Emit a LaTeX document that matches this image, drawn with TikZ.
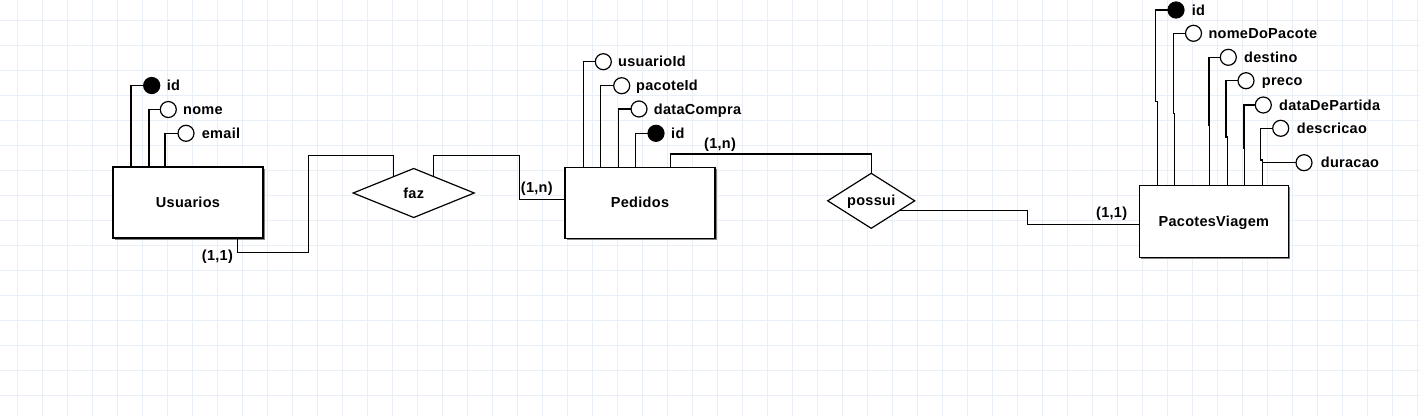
\documentclass[tikz,border=0pt]{standalone}
\usepackage{fontspec}
\setmainfont{Liberation Sans}[LetterSpace=2]
\usetikzlibrary{calc,shapes.geometric,shadows}
\definecolor{gridc}{RGB}{232,239,246}
\begin{document}
\begin{tikzpicture}[x=1pt,y=-1pt,
  conn/.style={line width=1.2pt, line join=miter},
  erfont/.style={font=\fontsize{14.5}{16}\selectfont\bfseries},
  entity/.style={draw, line width=1.2pt, fill=white, rectangle, minimum width=150pt, minimum height=71pt,
    inner sep=0pt, outer sep=0pt, erfont, text height=10pt, text depth=0pt,
    drop shadow={shadow xshift=1.6pt, shadow yshift=-1.6pt, fill=black!50, opacity=1}},
  rel/.style={draw, diamond, aspect=2, line width=1.2pt, fill=white, inner sep=0pt, outer sep=0pt,
    erfont, text height=10pt, text depth=0pt},
  attr/.style={draw, circle, line width=1.2pt, fill=white, minimum size=16pt, inner sep=0pt, outer sep=0pt},
  key/.style={attr, fill=black},
  lbl/.style={anchor=base west, inner sep=0pt, erfont},
]
% background and grid
\fill[white] (0,0) rectangle (1420,416);
\useasboundingbox (0,0) rectangle (1420,416);
\foreach \i in {0,...,56} \draw[gridc, line width=1pt] ({17.3+25*\i},0) -- ({17.3+25*\i},416);
\foreach \j in {0,...,15} \draw[gridc, line width=1pt] (0,{20+25*\j}) -- (1420,{20+25*\j});

% entities
\node[entity] (usu) at (188,202.5) {Usuarios};
\node[entity] (ped) at (640,202.7) {Pedidos};
\node[entity, minimum width=149pt, minimum height=72pt] (pv) at (1213.8,221.2) {PacotesViagem};

% relationships
\node[rel, minimum width=121pt, minimum height=49pt] (faz) at (413.7,193) {faz};
\node[rel, minimum width=87pt, minimum height=55pt] (possui) at (871.2,200.8) {possui};

% Usuarios attributes
\node[key]  (u1) at (151.7,85.5) {};
\node[attr] (u2) at (168.3,109.5) {};
\node[attr] (u3) at (186,133.3) {};
\node[lbl] (u1l) at (166.7,90.5) {id};
\node[lbl] (u2l) at (183,114.5) {nome};
\node[lbl] (u3l) at (201.7,138.3) {email};
\draw[conn] (u1.west) -| (131,0 |- usu.north);
\draw[conn] (u2.west) -| (149,0 |- usu.north);
\draw[conn] (u3.west) -| (165,0 |- usu.north);

% Pedidos attributes
\node[attr] (p1) at (603.3,61.7) {};
\node[attr] (p2) at (621.7,85.7) {};
\node[attr] (p3) at (639,109) {};
\node[key]  (p4) at (656,133.3) {};
\node[lbl] (p1l) at (618,66.7) {usuarioId};
\node[lbl] (p2l) at (636,90.7) {pacoteId};
\node[lbl] (p3l) at (653.7,114) {dataCompra};
\node[lbl] (p4l) at (671,138.3) {id};
\draw[conn] (p1.west) -| (583.3,0 |- ped.north);
\draw[conn] (p2.west) -| (600.7,0 |- ped.north);
\draw[conn] (p3.west) -| (618.7,0 |- ped.north);
\draw[conn] (p4.west) -| (635.7,0 |- ped.north);

% PacotesViagem attributes
\node[key]  (v1) at (1176,10) {};
\node[attr] (v2) at (1193.5,33.3) {};
\node[attr] (v3) at (1228.3,57.3) {};
\node[attr] (v4) at (1246,80.7) {};
\node[attr] (v5) at (1263.3,105) {};
\node[attr] (v6) at (1280.7,128.3) {};
\node[attr] (v7) at (1304,162.7) {};
\node[lbl] (v1l) at (1191.7,15) {id};
\node[lbl] (v2l) at (1208.3,38.3) {nomeDoPacote};
\node[lbl] (v3l) at (1244,62.3) {destino};
\node[lbl] (v4l) at (1261.7,85.7) {preco};
\node[lbl] (v5l) at (1279,110) {dataDePartida};
\node[lbl] (v6l) at (1296.7,133.3) {descricao};
\node[lbl] (v7l) at (1320.7,167.7) {duracao};
\draw[conn] (v1.west) -| (1155.7,101.7) -- (1157.3,101.7) -- (1157.3,0 |- pv.north);
\draw[conn] (v2.west) -| (1173.3,113.3) -- (1174.7,113.3) -- (1174.7,0 |- pv.north);
\draw[conn] (v3.west) -| (1209,125) -- (1209.7,125) -- (1209.7,0 |- pv.north);
\draw[conn] (v4.west) -| (1226,137) -- (1227.3,137) -- (1227.3,0 |- pv.north);
\draw[conn] (v5.west) -| (1244,148) -- (1244.7,148) -- (1244.7,0 |- pv.north);
\draw[conn] (v6.west) -| (1260.7,160) -- (1262.3,160) -- (1262.3,0 |- pv.north);
\draw[conn] (v7.west) -| (1262.3,0 |- pv.north);

% relationship connectors
\draw[conn] (237.7,0 |- usu.south) -- (237.7,252.5) -| (308.3,155.3) -| ($(faz.west)!0.663!(faz.north)$);
\draw[conn] ($(faz.north)!0.324!(faz.east)$) |- (519.3,155.3) |- (ped.west |- 0,199.3);
\draw[conn] (670.3,0 |- ped.north) |- (possui.north |- 0,154) -- (possui.north);
\draw[conn] ($(possui.east)!0.363!(possui.south)$) -| (1027.7,224.3) -- (pv.west |- 0,224.3);

% cardinalities
\node[lbl] (c1) at (201.7,260.3) {(1,1)};
\node[lbl] (c2) at (520.7,192.6) {(1,n)};
\node[lbl] (c3) at (704,148.6) {(1,n)};
\node[lbl] (c4) at (1096,217.6) {(1,1)};
\end{tikzpicture}
\end{document}
